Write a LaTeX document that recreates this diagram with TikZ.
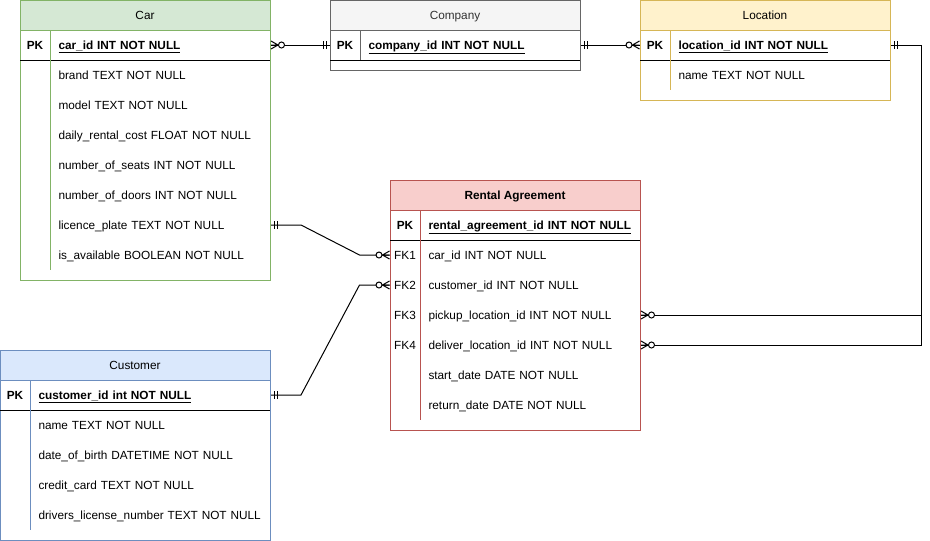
\documentclass[tikz,border=0pt]{standalone}
\usepackage{fontspec}
\setmainfont{Liberation Sans}
\usepackage{tikz}
\usetikzlibrary{calc}
\usepackage{xcolor}
\definecolor{carline}{HTML}{82B366}
\definecolor{carfill}{HTML}{D5E8D4}
\definecolor{compline}{HTML}{666666}
\definecolor{compfill}{HTML}{F5F5F5}
\definecolor{compfont}{HTML}{333333}
\definecolor{locline}{HTML}{D6B656}
\definecolor{locfill}{HTML}{FFF2CC}
\definecolor{raline}{HTML}{B85450}
\definecolor{rafill}{HTML}{F8CECC}
\definecolor{custline}{HTML}{6C8EBF}
\definecolor{custfill}{HTML}{DAE8FC}

\tikzset{
  % 关系端点：实体在左侧时 rotate=180
  pics/mandone/.style={code={\draw (3,-4) -- (3,4) (6,-4) -- (6,4);}},
  pics/zeromany/.style={code={
    \draw (0,-4) -- (7,0) -- (0,4) (0,0) -- (7,0);
    \draw[fill=white] (10.5,0) circle (3);}}
}

\begin{document}
\begin{tikzpicture}[x=1pt,y=-1pt,line width=1pt,
  font=\fontsize{11.8}{14}\selectfont,
  every node/.style={text height=11pt,text depth=2pt},
  title/.style={inner sep=0pt},
  keycol/.style={minimum width=30pt,minimum height=30pt,inner sep=0pt},
  field/.style={anchor=west,minimum height=30pt,text width=204pt,
    inner xsep=8pt,inner ysep=0pt,align=left}]
  \useasboundingbox (0,0) rectangle (930,541);

  % Car
  \draw[carline,fill=carfill] (20,0) rectangle (270,30);
  \draw[carline] (20,0) rectangle (270,280);
  \node[title] (car) at (145,15) {Car};
  \node[keycol] (car-key) at (35,45) {\textbf{PK}};
  \node[field] (car-id) at (50,45) {\textbf{\underline{car\_id INT NOT NULL}}};
  \draw (20,60) -- (270,60);
  \draw[carline] (50,30) -- (50,270);
  \foreach \txt [count=\i] in {{brand TEXT NOT NULL},{model TEXT NOT NULL},
      {daily\_rental\_cost FLOAT NOT NULL},{number\_of\_seats INT NOT NULL},
      {number\_of\_doors INT NOT NULL},{licence\_plate TEXT NOT NULL},
      {is\_available BOOLEAN NOT NULL}}
    \node[field] (car-\i) at (50,45+30*\i) {\txt};

  % Company
  \draw[compline,fill=compfill] (330,0) rectangle (580,30);
  \draw[compline] (330,0) rectangle (580,70);
  \node[title,text=compfont] (company) at (455,15) {Company};
  \node[keycol] (comp-key) at (345,45) {\textbf{PK}};
  \node[field] (comp-id) at (360,45) {\textbf{\underline{company\_id INT NOT NULL}}};
  \draw (330,60) -- (580,60);
  \draw[compline] (360,30) -- (360,60);

  % Location
  \draw[locline,fill=locfill] (640,0) rectangle (890,30);
  \draw[locline] (640,0) rectangle (890,100);
  \node[title] (location) at (765,15) {Location};
  \node[keycol] (loc-key) at (655,45) {\textbf{PK}};
  \node[field] (loc-id) at (670,45) {\textbf{\underline{location\_id INT NOT NULL}}};
  \draw (640,60) -- (890,60);
  \draw[locline] (670,30) -- (670,90);
  \node[field] (loc-1) at (670,75) {name TEXT NOT NULL};

  % Rental Agreement
  \draw[raline,fill=rafill] (390,180) rectangle (640,210);
  \draw[raline] (390,180) rectangle (640,430);
  \node[title] (rental) at (515,195) {\textbf{Rental Agreement}};
  \node[keycol] (ra-key) at (405,225) {\textbf{PK}};
  \node[field] (ra-id) at (420,225) {\textbf{\underline{rental\_agreement\_id INT NOT NULL}}};
  \draw (390,240) -- (640,240);
  \draw[raline] (420,210) -- (420,420);
  \foreach \i in {1,...,4}
    \node[keycol] (ra-k\i) at (405,225+30*\i) {FK\i};
  \foreach \txt [count=\i] in {{car\_id INT NOT NULL},{customer\_id INT NOT NULL},
      {pickup\_location\_id INT NOT NULL},{deliver\_location\_id INT NOT NULL},
      {start\_date DATE NOT NULL},{return\_date DATE NOT NULL}}
    \node[field] (ra-\i) at (420,225+30*\i) {\txt};

  % Customer
  \draw[custline,fill=custfill] (0,350) rectangle (270,380);
  \draw[custline] (0,350) rectangle (270,540);
  \node[title] (customer) at (135,365) {Customer};
  \node[keycol] (cust-key) at (15,395) {\textbf{PK}};
  \node[field,text width=224pt] (cust-id) at (30,395) {\textbf{\underline{customer\_id int NOT NULL}}};
  \draw (0,410) -- (270,410);
  \draw[custline] (30,380) -- (30,530);
  \foreach \txt [count=\i] in {{name TEXT NOT NULL},{date\_of\_birth DATETIME NOT NULL},
      {credit\_card TEXT NOT NULL},{\mbox{drivers\_license\_number TEXT NOT NULL}}}
    \node[field,text width=224pt] (cust-\i) at (30,395+30*\i) {\txt};

  % 关系连线
  \draw (car-id.east) -- (comp-key.west);
  \draw (comp-id.east) -- (loc-key.west);
  \draw (car-6.east) -- ++(30,0) -- ($(ra-k1.west)+(-30,0)$) -- (ra-k1.west);
  \draw (cust-id.east) -- ++(30,0) -- ($(ra-k2.west)+(-30,0)$) -- (ra-k2.west);
  \coordinate (bend) at ($(loc-id.east)+(30,0)$);
  \draw (loc-id.east) -- (bend) |- (ra-4.east);
  \draw (ra-3.east) -| (bend);

  % 端点符号
  \pic at (car-id.east) {zeromany};
  \pic[rotate=180] at (comp-key.west) {mandone};
  \pic at (comp-id.east) {mandone};
  \pic[rotate=180] at (loc-key.west) {zeromany};
  \pic at (car-6.east) {mandone};
  \pic[rotate=180] at (ra-k1.west) {zeromany};
  \pic at (cust-id.east) {mandone};
  \pic[rotate=180] at (ra-k2.west) {zeromany};
  \pic at (loc-id.east) {mandone};
  \pic at (ra-3.east) {zeromany};
  \pic at (ra-4.east) {zeromany};
\end{tikzpicture}
\end{document}
